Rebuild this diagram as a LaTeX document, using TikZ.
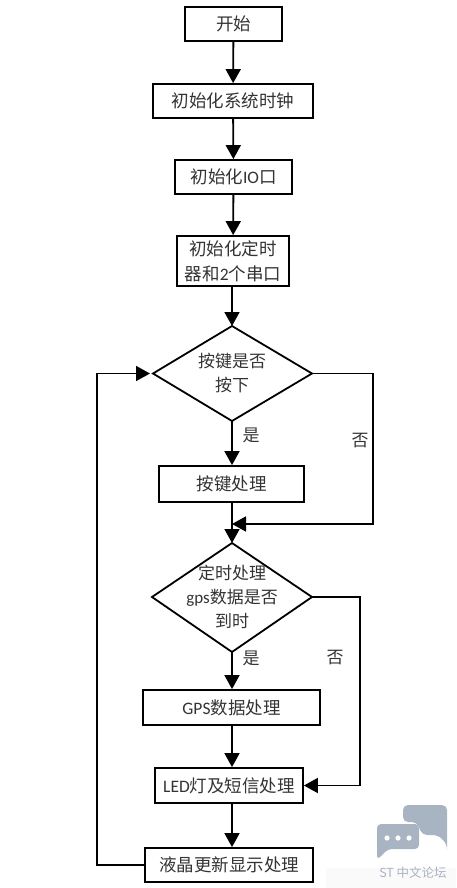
\documentclass[tikz,border=0pt]{standalone}
\usepackage{fontspec}
\setmainfont{Noto Sans CJK SC}
\newfontfamily\latfont{Carlito}
\newcommand{\lat}[1]{{\latfont #1}}
\usetikzlibrary{arrows.meta,shapes.geometric}
\definecolor{wmgray}{HTML}{A9B4C3}
\tikzset{
    flowbox/.style={draw=black, line width=1.8pt, inner sep=0pt, align=center, text=black!80, font=\fontsize{17.5}{25}\selectfont},
    flowtxt/.style={text=black!80, font=\fontsize{17}{24}\selectfont},
    flowline/.style={line width=1.8pt, -{Triangle[length=14pt,width=15pt]}},
}
\begin{document}
\begin{tikzpicture}[x=1pt, y=-1pt]
    \useasboundingbox (0,0) rectangle (456,888);

    % Fond du filigrane
    \fill[black!2] (326,868) rectangle (456,888);

    % Boites
    \node[flowbox, minimum width=97pt, minimum height=34pt] (start) at (233.5,24) {开始};
    \node[flowbox, minimum width=160pt, minimum height=34pt] (clock) at (233,101) {初始化系统时钟};
    \node[flowbox, minimum width=117pt, minimum height=34pt] (io) at (233.5,177) {初始化\lat{IO}口};
    \node[flowbox, minimum width=112pt, minimum height=50pt] (timer) at (233,261) {初始化定时\\器和\lat{2}个串口};
    \node[flowbox, minimum width=145pt, minimum height=36pt] (keyproc) at (231.5,484) {按键处理};
    \node[flowbox, minimum width=177pt, minimum height=35pt] (gps) at (231.5,707.5) {\lat{GPS}数据处理};
    \node[flowbox, minimum width=148pt, minimum height=35pt] (led) at (229,785.5) {\lat{LED}灯及短信处理};
    \node[flowbox, minimum width=168pt, minimum height=34pt] (lcd) at (229,865) {液晶更新显示处理};

    % Losanges
    \draw[line width=1.8pt] (232,326) coordinate (keytop) -- (312,373.5) coordinate (keyright)
        -- (232,421) coordinate (keybot) -- (153,373.5) coordinate (keyleft) -- cycle;
    \node[flowtxt, align=center] (keytxt) at (232,373.5) {按键是否\\按下};
    \draw[line width=1.8pt] (232,543) coordinate (ticktop) -- (312,597) coordinate (tickright)
        -- (232,652) coordinate (tickbot) -- (152,597) coordinate (tickleft) -- cycle;
    \node[flowtxt, align=center] (ticktxt) at (232,597) {定时处理\\\lat{gps}数据是否\\到时};

    % Points de passage
    \coordinate (join) at (232,524);
    \coordinate (noone) at (373,373.5);
    \coordinate (nojoin) at (373,524);
    \coordinate (notwo) at (360,597);
    \coordinate (noled) at (360,785.5);
    \coordinate (backbot) at (97,865);
    \coordinate (backtop) at (97,373.5);

    % Fleches
    \draw[flowline] (start) -- (clock);
    \draw[flowline] (clock) -- (io);
    \draw[flowline] (io) -- (timer);
    \draw[flowline] (timer.south -| keytop) -- (keytop);
    \draw[flowline] (keybot) -- (keyproc.north -| keybot);
    \draw[flowline] (keyproc.south -| ticktop) -- (ticktop);
    \draw[flowline] (keyright) -- (noone) -- (nojoin) -- (join);
    \draw[flowline] (tickbot) -- (gps.north -| tickbot);
    \draw[flowline] (gps.south -| tickbot) -- (led.north -| tickbot);
    \draw[flowline] (led.south -| tickbot) -- (lcd.north -| tickbot);
    \draw[flowline] (tickright) -- (notwo) -- (noled) -- (led.east);
    \draw[flowline, shorten >=3pt] (lcd.west) -- (backbot) -- (backtop) -- (keyleft);

    % Etiquettes
    \node[flowtxt] (yesone) at (251,435) {是};
    \node[flowtxt] (noonetxt) at (360,441) {否};
    \node[flowtxt] (yestwo) at (251,658) {是};
    \node[flowtxt] (notwotxt) at (335,658) {否};

    % Filigrane
    \fill[wmgray, rounded corners=5pt] (403,822) -- (403,805) -- (447,805) -- (447,845) -- (447,844) -- (438,835) -- (422,835) -- (417,822) -- cycle;
    \fill[wmgray, rounded corners=4pt] (377,860) -- (377,824) -- (419,824) -- (419,849) -- (388,849) -- cycle;
    \foreach \dotx [count=\doti] in {387,398,409} {
        \fill[white] (\dotx,838) circle (2.6pt);
    }
    \node[text=wmgray, font=\fontsize{12.5}{14}\selectfont] (wmark) at (413,873) {ST 中文论坛};
\end{tikzpicture}
\end{document}
